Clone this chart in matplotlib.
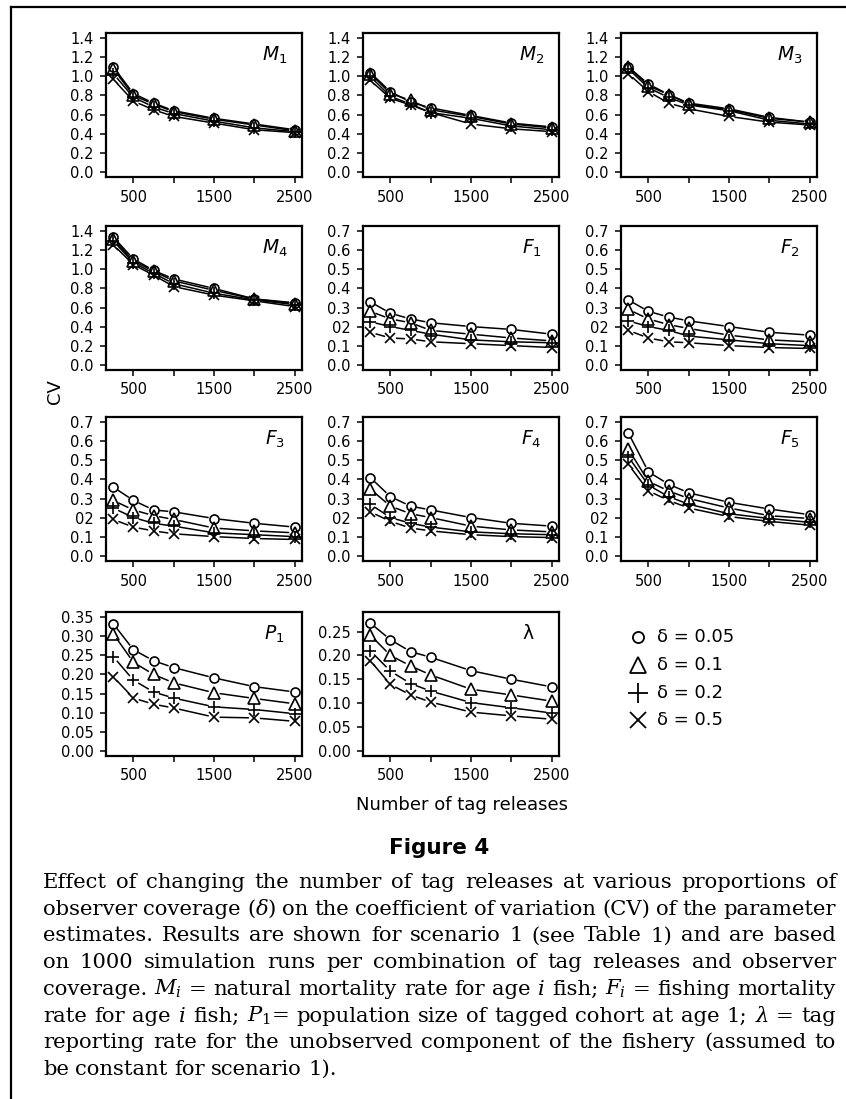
import matplotlib
matplotlib.use("Agg")
import matplotlib.pyplot as plt
from matplotlib.lines import Line2D
import numpy as np

plt.rcParams['font.family'] = ['DejaVu Sans']
plt.rcParams['mathtext.fontset'] = 'dejavusans'

# Data: CV of each estimate, one list per observer coverage (0.05, 0.1, 0.2, 0.5)
releases = [250, 500, 750, 1000, 1500, 2000, 2500]
deltas = ["0.05", "0.1", "0.2", "0.5"]

m1_cv = [[1.10, 0.82, 0.72, 0.64, 0.56, 0.50, 0.44],
         [1.08, 0.80, 0.71, 0.63, 0.55, 0.49, 0.43],
         [1.03, 0.78, 0.68, 0.61, 0.53, 0.46, 0.42],
         [0.97, 0.74, 0.65, 0.58, 0.51, 0.44, 0.41]]
m2_cv = [[1.04, 0.84, 0.73, 0.67, 0.59, 0.51, 0.47],
         [1.03, 0.82, 0.75, 0.65, 0.58, 0.50, 0.46],
         [1.00, 0.79, 0.71, 0.62, 0.56, 0.48, 0.44],
         [0.96, 0.77, 0.70, 0.62, 0.50, 0.45, 0.42]]
m3_cv = [[1.10, 0.92, 0.81, 0.72, 0.66, 0.57, 0.52],
         [1.10, 0.90, 0.81, 0.71, 0.65, 0.56, 0.52],
         [1.08, 0.88, 0.78, 0.70, 0.64, 0.54, 0.50],
         [1.03, 0.84, 0.72, 0.66, 0.58, 0.52, 0.49]]
m4_cv = [[1.34, 1.11, 0.99, 0.90, 0.80, 0.69, 0.65],
         [1.32, 1.09, 0.98, 0.88, 0.78, 0.69, 0.64],
         [1.30, 1.07, 0.96, 0.85, 0.75, 0.68, 0.63],
         [1.26, 1.05, 0.94, 0.82, 0.73, 0.67, 0.61]]
f1_cv = [[0.33, 0.27, 0.24, 0.22, 0.20, 0.185, 0.16],
         [0.28, 0.24, 0.22, 0.18, 0.16, 0.14, 0.125],
         [0.225, 0.20, 0.18, 0.16, 0.13, 0.12, 0.115],
         [0.17, 0.14, 0.135, 0.12, 0.11, 0.10, 0.09]]
f2_cv = [[0.34, 0.28, 0.25, 0.23, 0.20, 0.17, 0.155],
         [0.29, 0.24, 0.21, 0.19, 0.155, 0.13, 0.12],
         [0.23, 0.20, 0.18, 0.15, 0.13, 0.11, 0.10],
         [0.18, 0.14, 0.12, 0.115, 0.10, 0.09, 0.085]]
f3_cv = [[0.36, 0.29, 0.24, 0.23, 0.195, 0.17, 0.15],
         [0.29, 0.24, 0.21, 0.19, 0.145, 0.13, 0.12],
         [0.25, 0.20, 0.17, 0.155, 0.12, 0.11, 0.10],
         [0.19, 0.15, 0.13, 0.115, 0.10, 0.09, 0.085]]
f4_cv = [[0.41, 0.31, 0.26, 0.24, 0.20, 0.17, 0.155],
         [0.35, 0.26, 0.22, 0.20, 0.155, 0.135, 0.125],
         [0.27, 0.20, 0.17, 0.15, 0.125, 0.115, 0.11],
         [0.23, 0.18, 0.145, 0.13, 0.11, 0.10, 0.095]]
f5_cv = [[0.645, 0.44, 0.375, 0.33, 0.28, 0.245, 0.215],
         [0.56, 0.39, 0.34, 0.30, 0.25, 0.21, 0.195],
         [0.52, 0.37, 0.31, 0.27, 0.22, 0.195, 0.175],
         [0.48, 0.34, 0.29, 0.25, 0.205, 0.18, 0.16]]
p1_cv = [[0.333, 0.265, 0.236, 0.218, 0.191, 0.168, 0.154],
         [0.307, 0.232, 0.200, 0.178, 0.152, 0.137, 0.123],
         [0.247, 0.185, 0.154, 0.138, 0.115, 0.108, 0.097],
         [0.194, 0.138, 0.122, 0.112, 0.088, 0.086, 0.077]]
lam_cv = [[0.268, 0.233, 0.208, 0.196, 0.168, 0.150, 0.134],
          [0.243, 0.200, 0.178, 0.159, 0.129, 0.117, 0.104],
          [0.210, 0.167, 0.141, 0.125, 0.101, 0.090, 0.079],
          [0.189, 0.139, 0.117, 0.102, 0.081, 0.073, 0.066]]

m_ticks = [0.0, 0.2, 0.4, 0.6, 0.8, 1.0, 1.2, 1.4]
m_labels = ["0.0", "0.2", "0.4", "0.6", "0.8", "1.0", "1.2", "1.4"]
f_ticks = [0.0, 0.1, 0.2, 0.3, 0.4, 0.5, 0.6, 0.7]
f_labels = ["0.0", "0.1", "02", "0.3", "0.4", "0.5", "0.6", "0.7"]
p_ticks = [0.0, 0.05, 0.10, 0.15, 0.20, 0.25, 0.30, 0.35]
p_labels = ["0.00", "0.05", "0.10", "0.15", "0.20", "0.25", "0.30", "0.35"]
l_ticks = [0.0, 0.05, 0.10, 0.15, 0.20, 0.25]
l_labels = ["0.00", "0.05", "0.10", "0.15", "0.20", "0.25"]

panels = [
    (r"$M_1$", m1_cv, m_ticks, m_labels, 1.4),
    (r"$M_2$", m2_cv, m_ticks, m_labels, 1.4),
    (r"$M_3$", m3_cv, m_ticks, m_labels, 1.4),
    (r"$M_4$", m4_cv, m_ticks, m_labels, 1.4),
    (r"$F_1$", f1_cv, f_ticks, f_labels, 0.7),
    (r"$F_2$", f2_cv, f_ticks, f_labels, 0.7),
    (r"$F_3$", f3_cv, f_ticks, f_labels, 0.7),
    (r"$F_4$", f4_cv, f_ticks, f_labels, 0.7),
    (r"$F_5$", f5_cv, f_ticks, f_labels, 0.7),
    (r"$P_1$", p1_cv, p_ticks, p_labels, 0.35),
    ("λ", lam_cv, l_ticks, l_labels, 0.28),
]

markers = ['o', '^', '+', 'x']
msizes = [6.5, 8, 8.5, 7.5]
leg_sizes = [8, 11, 14, 11]

W, H = 846, 1099
fig = plt.figure(figsize=(W / 100, H / 100), dpi=100)

col_left = [106, 363, 621]
row_top = [33, 226, 417, 612]
pw, ph = 196, 144


def gapped_line(ax, x, y, gap=5.5):
    # R type="b": segments stop short of the points
    pts = ax.transData.transform(np.column_stack([x, y]))
    inv = ax.transData.inverted()
    for p0, p1 in zip(pts[:-1], pts[1:]):
        d = p1 - p0
        L = np.hypot(d[0], d[1])
        if L <= 2 * gap:
            continue
        u = d / L
        a = inv.transform(p0 + u * gap)
        b = inv.transform(p1 - u * gap)
        ax.plot([a[0], b[0]], [a[1], b[1]], color='black', lw=1.1,
                solid_capstyle='butt')


for i, (label, series, ticks, tlabels, ymax) in enumerate(panels):
    r, c = divmod(i, 3)
    ax = fig.add_axes([col_left[c] / W, 1 - (row_top[r] + ph) / H, pw / W, ph / H])
    pad_y = 0.04 * ymax
    ax.set_xlim(250 - 0.04 * 2250, 2500 + 0.04 * 2250)
    ax.set_ylim(-pad_y, ymax + pad_y)
    for k, vals in enumerate(series):
        gapped_line(ax, releases, vals)
        ax.plot(releases, vals, linestyle='none', marker=markers[k],
                markersize=msizes[k], markerfacecolor='none',
                markeredgecolor='black', markeredgewidth=1.2)
    ax.set_xticks([500, 1000, 1500, 2000, 2500])
    ax.set_xticklabels(["500", "", "1500", "", "2500"])
    ax.set_yticks(ticks)
    ax.set_yticklabels(tlabels)
    ax.tick_params(direction='out', length=4, width=1.1, labelsize=10.5,
                   pad=5, colors='black')
    for sp in ax.spines.values():
        sp.set_linewidth(1.6)
    if label == "λ":
        ax.text(0.84, 0.81, label, transform=ax.transAxes, fontsize=13.5,
                ha='center', va='baseline')
    else:
        ax.text(0.86, 0.81, label, transform=ax.transAxes, fontsize=13.5,
                ha='center', va='baseline')

# legend in the empty slot
leg_x, txt_x = 638, 657
leg_rows = [637, 665, 693, 720]
for k in range(4):
    fig.add_artist(Line2D([leg_x / W], [1 - leg_rows[k] / H], linestyle='none',
                          marker=markers[k], markersize=leg_sizes[k],
                          markerfacecolor='none', markeredgecolor='black',
                          markeredgewidth=1.3, transform=fig.transFigure))
    fig.text(txt_x / W, 1 - leg_rows[k] / H, "δ = " + deltas[k], fontsize=13,
             ha='left', va='center')

fig.text(55 / W, 1 - 392 / H, "CV", rotation=90, fontsize=13,
         ha='center', va='center')
fig.text(462 / W, 1 - 805 / H, "Number of tag releases", fontsize=13,
         ha='center', va='center')
fig.text(439 / W, 1 - 848 / H, "Figure 4", fontsize=15.5, fontweight='bold',
         ha='center', va='center')

# page frame (top and left rules)
fig.add_artist(Line2D([11 / W, 1], [1 - 7 / H, 1 - 7 / H], color='black',
                      lw=1.6, transform=fig.transFigure))
fig.add_artist(Line2D([11 / W, 11 / W], [1 - 7 / H, 0], color='black',
                      lw=1.6, transform=fig.transFigure))

# caption, justified
caption_lines = [
    "Effect of changing the number of tag releases at various proportions of",
    r"observer coverage $(\delta)$ on the coefficient of variation (CV) of the parameter",
    "estimates. Results are shown for scenario 1 (see Table 1) and are based",
    "on 1000 simulation runs per combination of tag releases and observer",
    r"coverage. $M_i$ = natural mortality rate for age $i$ fish; $F_i$ = fishing mortality",
    r"rate for age $i$ fish; $P_1$= population size of tagged cohort at age 1; $\lambda$ = tag",
    "reporting rate for the unobserved component of the fishery (assumed to",
    "be constant for scenario 1).",
]
cap_left, cap_right = 43, 836
cap_base = 888
cap_step = 26.7
renderer = fig.canvas.get_renderer()


def make_words(line, fs, y):
    return [fig.text(0, y, w, fontsize=fs, family='DejaVu Serif',
                     math_fontfamily='dejavuserif', va='baseline', ha='left')
            for w in line.split(" ")]


# pick a size so the full lines fit with a normal word space
base_fs = 13.5
ratios = []
for line in caption_lines[:-1]:
    tmp = make_words(line, base_fs, 0)
    sw = sum(t.get_window_extent(renderer).width for t in tmp)
    n = len(tmp)
    ratios.append((cap_right - cap_left) / (sw + (n - 1) * 0.3 * base_fs * 100 / 72))
    for t in tmp:
        t.remove()
cap_fs = base_fs * min(ratios)

for j, line in enumerate(caption_lines):
    y = 1 - (cap_base + j * cap_step) / H
    texts = make_words(line, cap_fs, y)
    widths = [t.get_window_extent(renderer).width for t in texts]
    if j == len(caption_lines) - 1:
        gap = cap_fs * 100 / 72 * 0.3
    else:
        gap = (cap_right - cap_left - sum(widths)) / (len(texts) - 1)
    x = cap_left
    for t, w in zip(texts, widths):
        t.set_x(x / W)
        x += w + gap

fig.savefig("out.png", dpi=100)
